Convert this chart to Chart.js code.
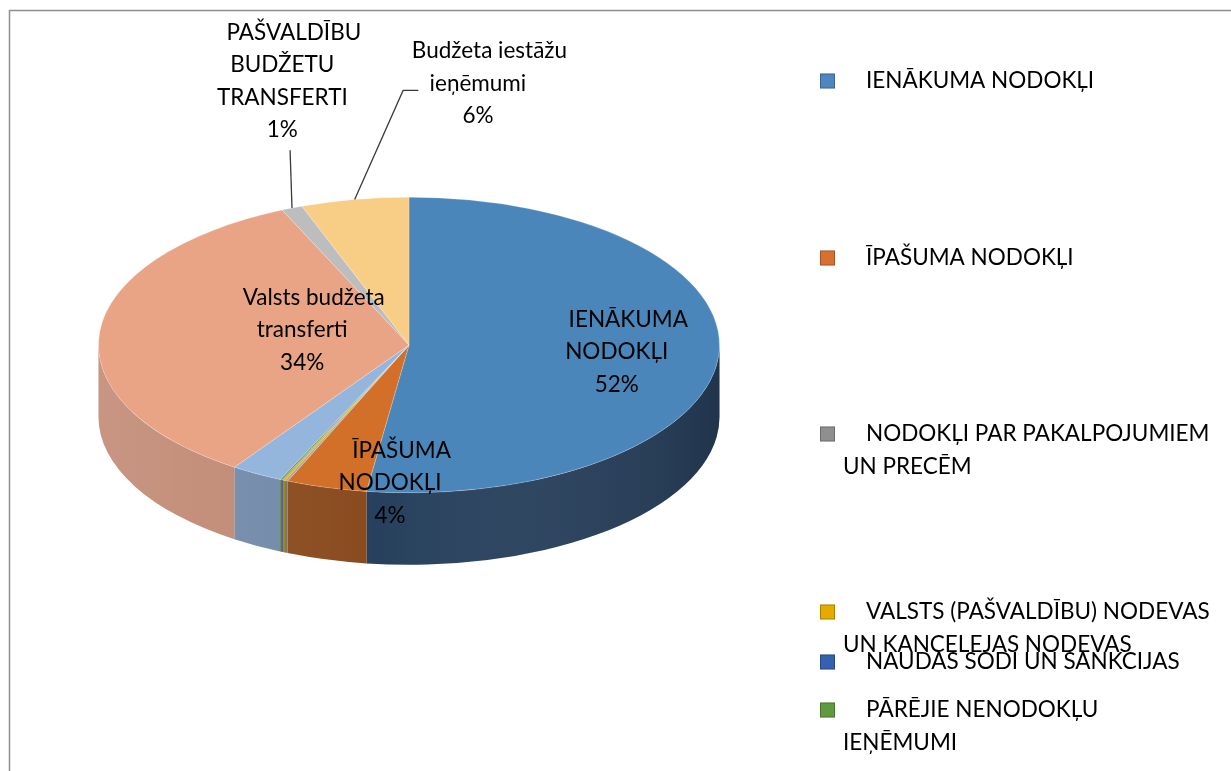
<!DOCTYPE html>
<html>
<head>
<meta charset="utf-8">
<script src="https://cdn.jsdelivr.net/npm/chart.js@4/dist/chart.umd.min.js"></script>
<style>
    html, body { margin: 0; padding: 0; background: #fff; }
    #wrap { position: relative; width: 1231px; height: 771px; }
</style>
</head>
<body>
<div id="wrap"><canvas id="chart"></canvas></div>
<script>
// category names carry the leading blanks they had in the source sheet
const categories = [
    "    IENĀKUMA NODOKĻI",
    "    ĪPAŠUMA NODOKĻI",
    "    NODOKĻI PAR PAKALPOJUMIEM UN PRECĒM",
    "    VALSTS (PAŠVALDĪBU) NODEVAS UN KANCELEJAS NODEVAS",
    "    NAUDAS SODI UN SANKCIJAS",
    "    PĀRĒJIE NENODOKĻU IEŅĒMUMI",
    "    Citi ieņēmumi",
    "    Valsts budžeta transferti",
    "    PAŠVALDĪBU BUDŽETU TRANSFERTI",
    "    Budžeta iestāžu ieņēmumi"
];
const shares = [52.2, 4.2, 0.15, 0.12, 0.05, 0.1, 2.7, 33.8, 1.1, 5.6];

// only these categories fit in the legend of the original
const legendItems = [0, 1, 2, 3, 4, 5];
// slices that carry a data label
const labelledSlices = [0, 1, 7, 8, 9];

const topColors = ["#4A86BA", "#D2702A", "#A6A6A6", "#E9B000", "#3E67AE", "#5F9B3E", "#95B6DC", "#E9A385", "#BDBDBD", "#F8CD86"];
const sideColors = ["#27405D", "#894A1D", "#707070", "#A88000", "#2C4A80", "#466F2E", "#6F88A8", "#BF8670", "#8C8C8C", "#C2A060"];
const legendColors = ["#4F86C0", "#D8712F", "#8F8F8F", "#E5AB00", "#3562AE", "#5E9B3F"];

const FONT = "22.5px Lato";
const LINE_H = 32.5;

function wrapText(ctx, text, maxWidth) {
    const lead = text.match(/^\s*/)[0];
    const words = text.trim().split(" ");
    const lines = [];
    let cur = lead + words[0];
    for (let i = 1; i < words.length; i++) {
        const test = cur + " " + words[i];
        if (ctx.measureText(test).width > maxWidth) {
            lines.push(cur);
            cur = words[i];
        } else {
            cur = test;
        }
    }
    lines.push(cur);
    return lines;
}

const pie3d = {
    id: "pie3d",
    beforeDraw(chart) {
        // frame of the chart area, only top and left edges are inside the picture
        const ctx = chart.ctx;
        ctx.save();
        ctx.strokeStyle = "#8E8E8E";
        ctx.lineWidth = 1.5;
        ctx.beginPath();
        ctx.moveTo(9.5, chart.height);
        ctx.lineTo(9.5, 10.5);
        ctx.lineTo(chart.width, 10.5);
        ctx.stroke();
        ctx.restore();
    },
    beforeDatasetsDraw(chart, args, opts) {
        const ctx = chart.ctx;
        const arcs = chart.getDatasetMeta(0).data;
        const {x, y, outerRadius: r} = arcs[0];
        const ry = r * opts.tilt;

        // side walls of the front half
        arcs.forEach((arc, i) => {
            const a0 = Math.max(arc.startAngle, 0);
            const a1 = Math.min(arc.endAngle, Math.PI);
            if (a1 <= a0) return;
            ctx.beginPath();
            ctx.ellipse(x, y, r, ry, 0, a0, a1);
            ctx.ellipse(x, y + opts.depth, r, ry, 0, a1, a0, true);
            ctx.closePath();
            ctx.fillStyle = sideColors[i];
            ctx.fill();
            const g = ctx.createLinearGradient(x - r, 0, x + r, 0);
            g.addColorStop(0, "rgba(255,255,255,0.13)");
            g.addColorStop(0.45, "rgba(255,255,255,0)");
            g.addColorStop(1, "rgba(0,0,0,0.18)");
            ctx.fillStyle = g;
            ctx.fill();
        });

        // squash the top face into an ellipse
        ctx.save();
        ctx.translate(x, y);
        ctx.scale(1, opts.tilt);
        ctx.translate(-x, -y);
    },
    afterDatasetsDraw(chart, args, opts) {
        const ctx = chart.ctx;
        ctx.restore();

        const arcs = chart.getDatasetMeta(0).data;
        const {x, y, outerRadius: r} = arcs[0];
        const total = shares.reduce((a, b) => a + b, 0);

        ctx.save();
        ctx.font = FONT;
        ctx.fillStyle = "#000";
        ctx.textAlign = "center";
        ctx.textBaseline = "middle";

        labelledSlices.forEach(i => {
            const pos = opts.labelPos[i];
            const lines = wrapText(ctx, categories[i], 205);
            lines.push(Math.round(shares[i] / total * 100) + "%");
            const lx = x + pos[0] * r;
            const ly = y + pos[1] * r;
            const top = ly - (lines.length - 1) * LINE_H / 2;
            lines.forEach((line, k) => ctx.fillText(line, lx, top + k * LINE_H));

            if (pos[2]) {
                // leader line from slice edge up to the label
                const arc = arcs[i];
                const mid = (arc.startAngle + arc.endAngle) / 2;
                const ex = x + r * Math.cos(mid);
                const ey = y + r * opts.tilt * Math.sin(mid);
                ctx.save();
                ctx.strokeStyle = "#3A3A3A";
                ctx.lineWidth = 1.3;
                ctx.beginPath();
                ctx.moveTo(ex, ey);
                pos[2].forEach(p => ctx.lineTo(x + p[0] * r, y + p[1] * r));
                ctx.stroke();
                ctx.restore();
            }
        });

        // legend
        ctx.textAlign = "left";
        legendItems.forEach((i, n) => {
            const ty = opts.legendY[n];
            ctx.fillStyle = legendColors[i];
            ctx.fillRect(820, ty - 7.5, 15, 15);
            ctx.strokeStyle = "rgba(0,0,0,0.25)";
            ctx.lineWidth = 1;
            ctx.strokeRect(820.5, ty - 7, 14, 14);
            ctx.fillStyle = "#000";
            const lines = wrapText(ctx, categories[i], 375);
            lines.forEach((line, k) => ctx.fillText(line, 843, ty + k * 33));
        });
        ctx.restore();
    }
};

new Chart(document.getElementById("chart"), {
    type: "pie",
    data: {
        labels: categories,
        datasets: [{
            data: shares,
            backgroundColor: topColors,
            borderColor: "rgba(255,255,255,0.3)",
            borderWidth: 1
        }]
    },
    options: {
        responsive: true,
        maintainAspectRatio: false,
        animation: false,
        events: [],
        layout: {padding: {left: 97, right: 510, top: 34, bottom: 115}},
        plugins: {
            legend: {display: false},
            tooltip: {enabled: false},
            pie3d: {
                tilt: 0.476,
                depth: 72,
                labelPos: {
                    0: [0.669, 0.023],
                    1: [-0.061, 0.444],
                    7: [-0.344, -0.048],
                    8: [-0.408, -0.849, [[-0.383, -0.627]]],
                    9: [0.222, -0.842, [[-0.019, -0.82], [0.03, -0.82]]]
                },
                legendY: [81, 258, 434, 612, 662, 710]
            }
        }
    },
    plugins: [pie3d]
});
</script>
</body>
</html>
